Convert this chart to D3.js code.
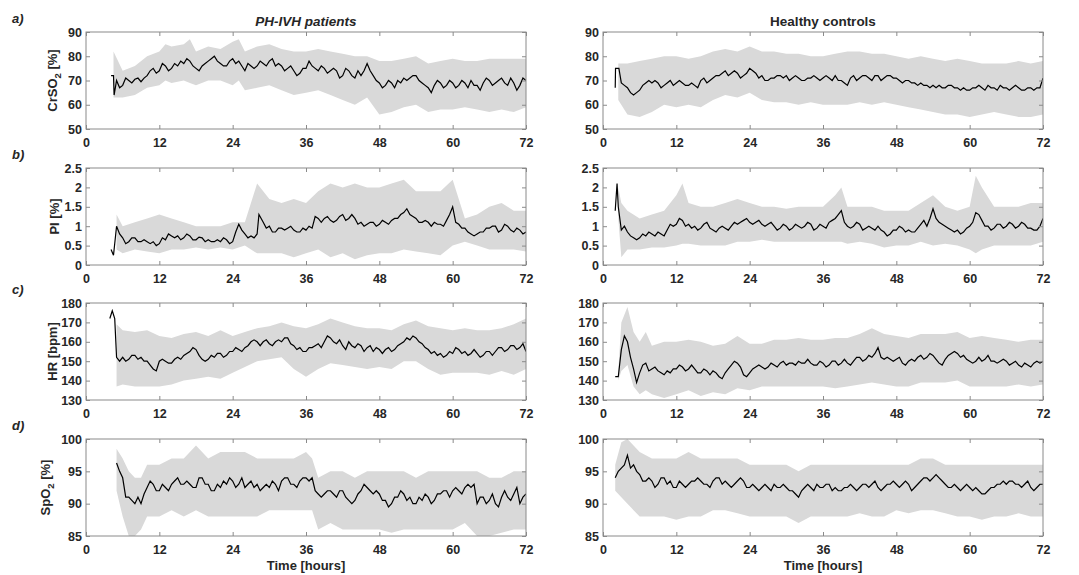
<!DOCTYPE html>
<html>
<head>
<meta charset="utf-8">
<script src="https://cdn.jsdelivr.net/npm/d3@7"></script>
<style>
  body { margin: 0; background: #fff; }
  svg { font-family: "Liberation Sans", Arial, sans-serif; }
  .tick text { font-size: 12.5px; font-weight: bold; fill: #262626; }
  .lbl { font-size: 13px; font-weight: bold; fill: #262626; }
  .ttl { font-size: 13.5px; font-weight: bold; fill: #262626; }
</style>
</head>
<body>
<div id="chart"></div>
<script>
// time axis ticks (hours)
var hourTicks = [0, 12, 24, 36, 48, 60, 72];
var groupTitles = ["PH-IVH patients", "Healthy controls"];

// ---- a) CrSO2, [hour, mean] and [hour, low, high]
var crso2PatMean = [[4.1,72],[4.5,72],[4.6,64],[5,70],[5.5,67],[6,68],[6.5,71],[7,70],[7.5,69],[8,70.5],[8.5,71],[9,69.5],[9.5,71],[10,72],[10.5,74],[11,75],[11.5,73],[12,74],[12.5,77],[13,76],[13.5,74],[14,75],[14.5,77],[15,76],[15.5,78],[16,77],[16.5,79],[17,78],[17.5,76],[18,75],[18.5,74],[19,76],[19.5,77],[20,78],[20.5,79],[21,80],[21.5,78],[22,77],[22.5,76],[23,76],[23.5,78],[24,79],[24.5,77],[25,78],[25.5,76],[26,74],[26.5,77],[27,76],[27.5,75],[28,76],[28.5,78],[29,77],[29.5,76],[30,78],[30.5,79],[31,76],[31.5,77],[32,76],[32.5,74],[33,75],[33.5,76],[34,74],[34.5,72],[35,73],[35.5,75],[36,75],[36.5,78],[37,76],[37.5,75],[38,74],[38.5,76],[39,75],[39.5,73],[40,74],[40.5,75],[41,74],[41.5,71],[42,72],[42.5,75],[43,74],[43.5,72],[44,71],[44.5,74],[45,72],[45.5,74],[46,77],[46.5,74],[47,72],[47.5,70],[48,69],[48.5,67],[49,68],[49.5,70],[50,69],[50.5,67],[51,70],[51.5,69],[52,71],[52.5,70],[53,71],[53.5,72],[54,72],[54.5,70],[55,69],[55.5,68],[56,67],[56.5,65],[57,68],[57.5,70],[58,69],[58.5,67],[59,68],[59.5,70],[60,69],[60.5,67],[61,68],[61.5,70],[62,69],[62.5,67],[63,70],[63.5,68],[64,68],[64.5,66],[65,69],[65.5,71],[66,70],[66.5,68],[67,69],[67.5,70],[68,71],[68.5,69],[69,68],[69.5,71],[70,69],[70.5,66],[71,68],[71.5,71],[72,70]];
var crso2PatBand = [[4.5,63,82],[6,63,74],[8,64,76],[10,67,80],[12,68,82],[13,70,85],[14,69,84],[16,70,85],[17,69,87],[18,68,82],[20,70,84],[22,70,83],[24,68,86],[25,70,87],[26,66,82],[28,67,84],[30,68,85],[32,66,83],[34,64,82],[36,65,82],[38,66,83],[40,64,82],[42,62,81],[44,60,80],[46,63,80],[48,56,78],[50,57,78],[52,59,79],[54,60,80],[56,57,77],[58,58,78],[60,58,79],[62,59,78],[64,58,78],[66,57,79],[68,58,79],[70,57,79],[72,59,79]];
var crso2CtlMean = [[2,67],[2.05,75],[2.6,75],[3,69],[3.5,68],[4,67],[4.5,65],[5,64],[5.5,65],[6,66],[6.5,68],[7,69],[7.5,70],[8,69],[8.5,70],[9,69],[9.5,67],[10,68],[10.5,69],[11,70],[11.5,68],[12,69],[12.5,70],[13,69],[13.5,68],[14,68],[14.5,69],[15,68],[15.5,67],[16,70],[16.5,71],[17,69],[17.5,70],[18,71],[18.5,72],[19,72],[19.5,73],[20,74],[20.5,72],[21,73],[21.5,74],[22,73],[22.5,71],[23,72],[23.5,73],[24,75],[24.5,74],[25,73],[25.5,71],[26,72],[26.5,70],[27,70],[27.5,71],[28,71],[28.5,72],[29,72],[29.5,71],[30,72],[30.5,70],[31,71],[31.5,72],[32,71],[32.5,70],[33,70],[33.5,71],[34,71],[34.5,72],[35,71],[35.5,70],[36,71],[36.5,72],[37,71],[37.5,70],[38,72],[38.5,70],[39,70],[39.5,69],[40,68],[40.5,71],[41,72],[41.5,70],[42,71],[42.5,72],[43,72],[43.5,71],[44,70],[44.5,72],[45,72],[45.5,70],[46,71],[46.5,72],[47,72],[47.5,71],[48,71],[48.5,70],[49,69],[49.5,70],[50,70],[50.5,69],[51,69],[51.5,68],[52,69],[52.5,68],[53,68],[53.5,67],[54,68],[54.5,67],[55,68],[55.5,67],[56,67],[56.5,68],[57,68],[57.5,67],[58,67],[58.5,66],[59,67],[59.5,66],[60,66],[60.5,67],[61,67],[61.5,68],[62,67],[62.5,66],[63,68],[63.5,67],[64,67],[64.5,66],[65,68],[65.5,67],[66,67],[66.5,66],[67,67],[67.5,68],[68,67],[68.5,66],[69,66],[69.5,67],[70,67],[70.5,66],[71,67],[71.5,67],[72,71]];
var crso2CtlBand = [[2.5,62,77],[4,56,77],[6,55,78],[8,57,79],[10,60,80],[12,59,80],[14,60,79],[16,59,80],[18,62,82],[20,64,83],[22,63,82],[24,65,84],[26,62,82],[28,61,82],[30,61,81],[32,60,81],[34,61,80],[36,60,80],[38,60,81],[40,60,82],[42,61,82],[44,60,81],[46,61,81],[48,60,80],[50,59,79],[52,58,80],[54,57,79],[56,56,78],[58,56,79],[60,55,78],[62,56,77],[64,57,77],[66,56,77],[68,55,78],[70,55,77],[72,56,78]];

// ---- b) PI
var piPatMean = [[4.1,0.4],[4.5,0.25],[5,1.0],[5.5,0.8],[6,0.7],[6.5,0.55],[7,0.6],[7.5,0.7],[8,0.7],[8.5,0.6],[9,0.6],[9.5,0.65],[10,0.6],[10.5,0.55],[11,0.6],[11.5,0.5],[12,0.55],[12.5,0.7],[13,0.65],[13.5,0.8],[14,0.75],[14.5,0.7],[15,0.75],[15.5,0.65],[16,0.7],[16.5,0.8],[17,0.75],[17.5,0.65],[18,0.65],[18.5,0.72],[19,0.7],[19.5,0.6],[20,0.65],[20.5,0.6],[21,0.6],[21.5,0.65],[22,0.6],[22.5,0.7],[23,0.65],[23.5,0.55],[24,0.6],[24.5,0.85],[25,1.05],[25.5,0.9],[26,0.8],[26.5,0.7],[27,0.75],[27.5,0.7],[28,0.8],[28.3,1.3],[29,1.1],[29.5,0.95],[30,1.0],[30.5,0.85],[31,0.85],[31.5,0.95],[32,0.95],[32.5,0.9],[33,0.95],[33.5,1.0],[34,0.9],[34.5,0.85],[35,0.85],[35.5,0.95],[36,0.9],[36.5,1.0],[37,0.95],[37.5,1.25],[38,1.2],[38.5,1.1],[39,1.2],[39.5,1.25],[40,1.15],[40.5,1.1],[41,1.15],[41.5,1.25],[42,1.3],[42.5,1.15],[43,1.2],[43.5,1.3],[44,1.2],[44.5,1.05],[45,1.1],[45.5,1.0],[46,1.05],[46.5,1.1],[47,1.1],[47.5,1.0],[48,1.05],[48.5,1.15],[49,1.1],[49.5,1.05],[50,1.15],[50.5,1.2],[51,1.2],[51.5,1.3],[52,1.35],[52.5,1.45],[53,1.3],[53.5,1.25],[54,1.2],[54.5,1.1],[55,1.1],[55.5,1.15],[56,1.1],[56.5,1.0],[57,1.1],[57.5,1.05],[58,1.05],[58.5,1.0],[59,1.15],[59.5,1.3],[60,1.5],[60.5,1.1],[61,1.05],[61.5,0.95],[62,0.95],[62.5,0.85],[63,0.8],[63.5,0.75],[64,0.8],[64.5,0.85],[65,0.85],[65.5,0.95],[66,0.95],[66.5,1.0],[67,1.0],[67.5,0.85],[68,0.9],[68.5,1.05],[69,1.0],[69.5,0.9],[70,0.85],[70.5,0.95],[71,0.9],[71.5,0.8],[72,0.85]];
var piPatBand = [[5,0.4,1.3],[6,0.3,1.0],[8,0.4,1.1],[10,0.35,1.2],[12,0.3,1.3],[14,0.4,1.2],[16,0.4,1.1],[18,0.45,1.0],[20,0.4,1.0],[22,0.45,1.0],[24,0.4,1.1],[26,0.5,1.1],[28,0.3,2.1],[30,0.3,1.7],[32,0.3,1.6],[34,0.2,1.7],[36,0.3,1.6],[38,0.4,1.9],[40,0.2,2.1],[42,0.3,2.0],[44,0.15,2.1],[46,0.25,2.0],[48,0.3,2.0],[50,0.3,2.1],[52,0.4,2.2],[54,0.35,1.9],[56,0.3,1.9],[58,0.25,1.9],[60,0.5,2.2],[62,0.6,1.2],[64,0.5,1.3],[66,0.4,1.5],[68,0.4,1.6],[70,0.4,1.4],[72,0.35,1.4]];
var piCtlMean = [[2,1.4],[2.3,2.1],[2.5,1.5],[3,0.9],[3.5,1.0],[4,0.85],[4.5,0.75],[5,0.7],[5.5,0.65],[6,0.7],[6.5,0.8],[7,0.75],[7.5,0.85],[8,0.8],[8.5,0.75],[9,0.85],[9.5,0.8],[10,0.75],[10.5,0.9],[11,1.05],[11.5,1.0],[12,1.05],[12.5,1.2],[13,1.15],[13.5,1.0],[14,1.05],[14.5,0.95],[15,1.0],[15.5,0.9],[16,0.95],[16.5,1.05],[17,1.1],[17.5,0.95],[18,0.9],[18.5,0.85],[19,0.95],[19.5,1.0],[20,0.95],[20.5,0.9],[21,1.0],[21.5,1.1],[22,1.05],[22.5,1.1],[23,1.15],[23.5,1.2],[24,1.1],[24.5,1.05],[25,1.1],[25.5,1.15],[26,1.05],[26.5,1.0],[27,1.05],[27.5,1.1],[28,1.0],[28.5,0.9],[29,0.95],[29.5,1.05],[30,1.0],[30.5,0.9],[31,0.95],[31.5,1.05],[32,1.0],[32.5,0.95],[33,1.0],[33.5,1.1],[34,1.05],[34.5,0.9],[35,0.95],[35.5,1.05],[36,1.0],[36.5,0.95],[37,1.1],[37.5,1.15],[38,1.2],[38.5,1.3],[39,1.4],[39.5,1.1],[40,1.0],[40.5,0.95],[41,1.0],[41.5,1.1],[42,1.05],[42.5,0.9],[43,0.95],[43.5,1.0],[44,0.95],[44.5,0.9],[45,1.0],[45.5,0.9],[46,0.85],[46.5,0.75],[47,0.8],[47.5,0.9],[48,0.9],[48.5,1.0],[49,0.95],[49.5,0.85],[50,0.9],[50.5,0.85],[51,0.85],[51.5,0.95],[52,1.05],[52.5,1.15],[53,1.0],[53.5,1.2],[54,1.45],[54.5,1.2],[55,1.1],[55.5,1.05],[56,1.0],[56.5,0.95],[57,0.9],[57.5,0.85],[58,0.9],[58.5,0.8],[59,0.85],[59.5,0.95],[60,1.0],[60.5,1.1],[61,1.35],[61.5,1.3],[62,1.15],[62.5,1.0],[63,1.0],[63.5,0.9],[64,0.95],[64.5,1.05],[65,1.05],[65.5,0.95],[66,1.0],[66.5,1.1],[67,1.05],[67.5,0.95],[68,1.0],[68.5,1.1],[69,1.05],[69.5,0.95],[70,0.95],[70.5,0.9],[71,0.9],[71.5,1.0],[72,1.2]];
var piCtlBand = [[2.5,1.2,2.0],[3,0.2,1.6],[4,0.4,1.4],[6,0.4,1.2],[8,0.45,1.3],[10,0.45,1.4],[12,0.5,1.8],[13,0.55,2.1],[14,0.55,1.6],[16,0.5,1.5],[18,0.5,1.5],[20,0.5,1.6],[22,0.6,1.7],[24,0.6,1.6],[26,0.65,1.5],[28,0.6,1.5],[30,0.6,1.45],[32,0.6,1.5],[34,0.6,1.5],[36,0.6,1.5],[38,0.6,1.8],[39,0.6,2.0],[40,0.55,1.5],[42,0.6,1.5],[44,0.55,1.5],[46,0.45,1.4],[48,0.5,1.4],[50,0.5,1.4],[52,0.6,1.6],[54,0.5,1.8],[56,0.55,1.5],[58,0.5,1.4],[60,0.4,1.5],[61,0.3,2.3],[62,0.4,2.0],[64,0.5,1.5],[66,0.5,1.5],[68,0.5,1.5],[70,0.5,1.6],[72,0.6,1.6]];

// ---- c) HR
var hrPatMean = [[3.9,172],[4.3,176],[4.7,172],[5,152],[5.5,150],[6,152],[6.5,150],[7,151],[7.5,153],[8,153],[8.5,151],[9,152],[9.5,150],[10,150],[10.5,148],[11,146],[11.5,145],[12,150],[12.5,151],[13,150],[13.5,149],[14,149],[14.5,151],[15,152],[15.5,151],[16,153],[16.5,154],[17,155],[17.5,157],[18,156],[18.5,153],[19,151],[19.5,150],[20,151],[20.5,153],[21,152],[21.5,154],[22,154],[22.5,152],[23,153],[23.5,155],[24,155],[24.5,157],[25,156],[25.5,155],[26,157],[26.5,158],[27,160],[27.5,161],[28,160],[28.5,158],[29,160],[29.5,161],[30,159],[30.5,158],[31,160],[31.5,161],[32,160],[32.5,162],[33,162],[33.5,159],[34,158],[34.5,156],[35,157],[35.5,155],[36,155],[36.5,157],[37,157],[37.5,158],[38,159],[38.5,157],[39,160],[39.5,163],[40,162],[40.5,160],[41,159],[41.5,161],[42,158],[42.5,156],[43,160],[43.5,158],[44,157],[44.5,159],[45,158],[45.5,155],[46,157],[46.5,158],[47,155],[47.5,157],[48,156],[48.5,154],[49,156],[49.5,157],[50,155],[50.5,156],[51,158],[51.5,159],[52,160],[52.5,162],[53,161],[53.5,163],[54,162],[54.5,160],[55,159],[55.5,157],[56,156],[56.5,154],[57,155],[57.5,153],[58,154],[58.5,152],[59,153],[59.5,155],[60,154],[60.5,157],[61,156],[61.5,154],[62,155],[62.5,153],[63,154],[63.5,156],[64,154],[64.5,152],[65,153],[65.5,155],[66,155],[66.5,153],[67,155],[67.5,157],[68,157],[68.5,155],[69,156],[69.5,158],[70,158],[70.5,156],[71,157],[71.5,159],[72,155]];
var hrPatBand = [[5,137,169],[6,138,166],[8,137,165],[10,137,166],[12,137,163],[14,138,162],[16,140,164],[18,141,165],[20,142,163],[22,141,166],[24,144,163],[26,147,165],[28,150,167],[30,151,168],[32,152,170],[34,146,168],[36,142,167],[38,146,169],[40,149,172],[42,148,170],[44,147,168],[46,146,167],[48,147,167],[50,146,166],[52,150,169],[54,150,171],[56,146,168],[58,143,167],[60,144,166],[62,144,167],[64,144,166],[66,143,166],[68,145,167],[70,143,169],[72,146,172]];
var hrCtlMean = [[2,142],[2.5,142],[3,156],[3.5,163],[4,160],[4.5,152],[5,146],[5.5,139],[6,144],[6.5,148],[7,149],[7.5,145],[8,146],[8.5,147],[9,145],[9.5,144],[10,143],[10.5,145],[11,144],[11.5,146],[12,146],[12.5,148],[13,147],[13.5,145],[14,146],[14.5,148],[15,146],[15.5,144],[16,144],[16.5,146],[17,145],[17.5,143],[18,145],[18.5,144],[19,142],[19.5,141],[20,144],[20.5,146],[21,148],[21.5,150],[22,149],[22.5,147],[23,143],[23.5,142],[24,144],[24.5,146],[25,147],[25.5,148],[26,147],[26.5,146],[27,147],[27.5,149],[28,148],[28.5,147],[29,149],[29.5,150],[30,148],[30.5,149],[31,149],[31.5,148],[32,150],[32.5,149],[33,149],[33.5,151],[34,149],[34.5,148],[35,148],[35.5,150],[36,149],[36.5,147],[37,148],[37.5,150],[38,150],[38.5,148],[39,149],[39.5,151],[40,149],[40.5,148],[41,150],[41.5,152],[42,152],[42.5,150],[43,151],[43.5,153],[44,152],[44.5,154],[45,157],[45.5,152],[46,151],[46.5,152],[47,151],[47.5,150],[48,151],[48.5,152],[49,149],[49.5,148],[50,150],[50.5,151],[51,150],[51.5,152],[52,153],[52.5,151],[53,152],[53.5,154],[54,153],[54.5,151],[55,149],[55.5,148],[56,151],[56.5,153],[57,154],[57.5,155],[58,154],[58.5,152],[59,153],[59.5,151],[60,150],[60.5,149],[61,150],[61.5,152],[62,150],[62.5,151],[63,153],[63.5,150],[64,150],[64.5,149],[65,150],[65.5,151],[66,150],[66.5,148],[67,149],[67.5,150],[68,148],[68.5,147],[69,149],[69.5,148],[70,147],[70.5,149],[71,150],[71.5,149],[72,150]];
var hrCtlBand = [[2.5,140,145],[3,145,170],[4,148,178],[5,137,165],[6,133,160],[7,135,165],[8,133,158],[10,131,160],[12,133,160],[14,135,161],[16,132,160],[18,134,158],[20,133,159],[22,136,163],[24,135,159],[26,137,159],[28,137,161],[30,137,161],[32,137,162],[34,137,161],[36,137,161],[38,136,162],[40,137,162],[42,138,164],[44,139,167],[46,138,164],[48,137,163],[50,137,162],[52,139,164],[54,139,164],[56,139,164],[58,140,165],[60,137,162],[62,137,163],[64,137,162],[66,137,161],[68,138,160],[70,137,161],[72,138,161]];

// ---- d) SpO2
var spo2PatMean = [[5,96.3],[5.5,95],[6,94],[6.5,91],[7,91],[7.5,90.5],[8,90],[8.5,91],[9,90],[9.5,91.5],[10,92.5],[10.5,93.5],[11,93],[11.5,92],[12,92],[12.5,93],[13,92.5],[13.5,92],[14,93],[14.5,93.5],[15,94],[15.5,93],[16,93],[16.5,93.5],[17,93],[17.5,92.5],[18,92.5],[18.5,94],[19,94],[19.5,93],[20,93],[20.5,92],[21,92],[21.5,93],[22,92.5],[22.5,93.5],[23,93],[23.5,94],[24,93.5],[24.5,92.5],[25,93],[25.5,94],[26,92.5],[26.5,93],[27,93.5],[27.5,92.5],[28,93],[28.5,92],[29,92.5],[29.5,93],[30,92.5],[30.5,93.5],[31,93],[31.5,92],[32,93.5],[32.5,94],[33,94],[33.5,93],[34,93],[34.5,92.5],[35,93.5],[35.5,94],[36,94],[36.5,93.5],[37,94],[37.5,92],[38,91.5],[38.5,91],[39,91.5],[39.5,92],[40,92],[40.5,91.5],[41,91],[41.5,92],[42,92],[42.5,91],[43,90.5],[43.5,90],[44,90.5],[44.5,91.5],[45,92],[45.5,93],[46,92.5],[46.5,92],[47,91.5],[47.5,92],[48,91.5],[48.5,90.5],[49,90.5],[49.5,89.5],[50,90],[50.5,91],[51,91],[51.5,92],[52,91.5],[52.5,90.5],[53,91],[53.5,90],[54,90],[54.5,91],[55,90.5],[55.5,91.5],[56,91],[56.5,90],[57,90.5],[57.5,91.5],[58,91.5],[58.5,92],[59,92],[59.5,91],[60,92],[60.5,92.5],[61,92],[61.5,91.5],[62,92.5],[62.5,93],[63,92.5],[63.5,93],[64,90],[64.5,91],[65,91],[65.5,90],[66,90.5],[66.5,91.5],[67,90],[67.5,89.5],[68,91],[68.5,92],[69,91],[69.5,90.5],[70,91.5],[70.5,92.5],[71,90],[71.5,91],[72,91.5]];
var spo2PatBand = [[5,92,98.5],[6,88,97],[7,85,95],[8,85,94],[9,86,94],[10,88,96],[12,88,96],[14,89,97],[16,88,97],[18,89,99],[20,88,97],[22,88,98],[24,88,98],[26,88,98],[28,88,97],[30,89,97],[32,89,97],[34,89,97],[36,89,98],[37,89,97],[38,86,94],[40,87,95],[42,86,95],[44,86,94],[46,86,95],[48,86,95],[50,85.5,95],[52,86,95],[54,86,94],[56,86,95],[58,86,95],[60,86,95],[62,87,95],[64,85,95],[66,85,94],[68,85.5,94],[70,86,95],[72,86,95]];
var spo2CtlMean = [[2,94],[2.5,95],[3,95.5],[3.5,96],[4,97.5],[4.5,95.5],[5,96],[5.5,95],[6,94.5],[6.5,93.5],[7,93.5],[7.5,94],[8,93.5],[8.5,92.5],[9,93],[9.5,94],[10,94],[10.5,93],[11,93.5],[11.5,92.5],[12,92.5],[12.5,93.5],[13,93],[13.5,92.5],[14,93],[14.5,93.5],[15,93.5],[15.5,94],[16,93.5],[16.5,93],[17,93],[17.5,92.5],[18,93.5],[18.5,94],[19,94],[19.5,93],[20,93.5],[20.5,93],[21,92.5],[21.5,93],[22,93.5],[22.5,94],[23,93.5],[23.5,92.5],[24,92.5],[24.5,93],[25,92.5],[25.5,92],[26,92.5],[26.5,93],[27,92.5],[27.5,92],[28,93],[28.5,92.5],[29,92.5],[29.5,93],[30,92.5],[30.5,92],[31,92],[31.5,91.5],[32,91],[32.5,92],[33,92.5],[33.5,93],[34,92.5],[34.5,92],[35,93],[35.5,92.5],[36,92.5],[36.5,93],[37,93],[37.5,92],[38,92.5],[38.5,92],[39,92],[39.5,92.5],[40,92.5],[40.5,93],[41,92.5],[41.5,92],[42,92.5],[42.5,93],[43,93],[43.5,92.5],[44,93],[44.5,93.5],[45,92.5],[45.5,92],[46,92.5],[46.5,93],[47,93],[47.5,93.5],[48,93],[48.5,92.5],[49,93],[49.5,93.5],[50,93],[50.5,92],[51,92.5],[51.5,93],[52,93.5],[52.5,94],[53,94],[53.5,93.5],[54,94],[54.5,94.5],[55,94],[55.5,93.5],[56,93],[56.5,92.5],[57,92.5],[57.5,93],[58,92.5],[58.5,92],[59,92.5],[59.5,93],[60,92.5],[60.5,92],[61,92.5],[61.5,92],[62,91.5],[62.5,91.5],[63,92],[63.5,92.5],[64,92.5],[64.5,93],[65,93],[65.5,93.5],[66,93],[66.5,93.5],[67,93.5],[67.5,93],[68,93],[68.5,92.5],[69,93],[69.5,93.5],[70,92.5],[70.5,92],[71,92.5],[71.5,93],[72,93]];
var spo2CtlBand = [[2,92,96],[3,91,99.5],[4,90,100],[5,89,99],[6,88,98],[8,88,97],[10,88,97],[12,87.5,97],[14,88,98],[16,88,97],[18,89,97],[20,89,97],[22,88.5,97],[24,88,96],[26,88,96],[28,88,96],[30,88,96],[32,87,95],[34,88,96],[36,88,96],[38,88,96],[40,88,96],[42,88.5,96],[44,88,96],[46,88,96],[48,89,96],[50,88.5,96],[52,89,97],[54,89,97],[56,88.5,96],[58,88,96],[60,88,96],[62,87.5,96],[64,88,96],[66,88,96],[68,88.5,96],[70,88,96],[72,88,96]];

var rows = [
  {letter: "a)", label: "CrSO", sub: "2", unit: " [%]", domain: [50, 90], ticks: [50, 60, 70, 80, 90], fmt: d3.format("d"),
   series: [[crso2PatMean, crso2PatBand], [crso2CtlMean, crso2CtlBand]], labX: 57},
  {letter: "b)", label: "PI", sub: "", unit: " [%]", domain: [0, 2.5], ticks: [0, 0.5, 1, 1.5, 2, 2.5], fmt: d3.format("~g"),
   series: [[piPatMean, piPatBand], [piCtlMean, piCtlBand]], labX: 59},
  {letter: "c)", label: "HR [bpm]", sub: "", unit: "", domain: [130, 180], ticks: [130, 140, 150, 160, 170, 180], fmt: d3.format("d"),
   series: [[hrPatMean, hrPatBand], [hrCtlMean, hrCtlBand]], labX: 57},
  {letter: "d)", label: "SpO", sub: "2", unit: " [%]", domain: [85, 100], ticks: [85, 90, 95, 100], fmt: d3.format("d"),
   series: [[spo2PatMean, spo2PatBand], [spo2CtlMean, spo2CtlBand]], labX: 50}
];

var width = 1079, height = 575;
var colLeft = [86, 603], plotW = 440;
var rowTop = [32, 168, 303, 439], plotH = 97;

var svg = d3.select("#chart").append("svg")
    .attr("width", width)
    .attr("height", height);

var x = d3.scaleLinear().domain([0, 72]).range([0, plotW]);

rows.forEach(function(r, ri) {
  var y = d3.scaleLinear().domain(r.domain).range([plotH, 0]);

  // panel letter
  svg.append("text").attr("class", "lbl")
    .attr("x", 12).attr("y", rowTop[ri] - 9)
    .style("font-style", "italic")
    .text(r.letter);

  r.series.forEach(function(s, ci) {
    var g = svg.append("g")
      .attr("transform", "translate(" + colLeft[ci] + "," + rowTop[ri] + ")");

    var clipId = "clip" + ri + ci;
    g.append("clipPath").attr("id", clipId)
      .append("rect").attr("width", plotW).attr("height", plotH);

    var area = d3.area()
      .x(function(d) { return x(d[0]); })
      .y0(function(d) { return y(d[1]); })
      .y1(function(d) { return y(d[2]); });
    var line = d3.line()
      .x(function(d) { return x(d[0]); })
      .y(function(d) { return y(d[1]); });

    g.append("path").datum(s[1])
      .attr("clip-path", "url(#" + clipId + ")")
      .attr("d", area)
      .attr("fill", "#d9d9d9");

    g.append("path").datum(s[0])
      .attr("clip-path", "url(#" + clipId + ")")
      .attr("d", line)
      .attr("fill", "none")
      .attr("stroke", "#000")
      .attr("stroke-width", 1.2);

    // axes, matlab style: ticks inside, box all round
    g.append("g").attr("class", "x axis")
      .attr("transform", "translate(0," + plotH + ")")
      .call(d3.axisBottom(x).tickValues(hourTicks).tickFormat(d3.format("d")).tickSizeInner(-4).tickSizeOuter(0).tickPadding(9));
    g.append("g")
      .call(d3.axisTop(x).tickValues(hourTicks).tickFormat("").tickSizeInner(-4).tickSizeOuter(0));
    g.append("g").attr("class", "y axis")
      .call(d3.axisLeft(y).tickValues(r.ticks).tickFormat(r.fmt).tickSizeInner(-4).tickSizeOuter(0).tickPadding(4));
    g.append("g").attr("transform", "translate(" + plotW + ",0)")
      .call(d3.axisRight(y).tickValues(r.ticks).tickFormat("").tickSizeInner(-4).tickSizeOuter(0));

    g.selectAll(".domain").remove();
    g.selectAll(".tick line").attr("stroke", "#8a8a8a");
    g.append("rect").attr("width", plotW).attr("height", plotH)
      .attr("fill", "none").attr("stroke", "#8a8a8a").attr("stroke-width", 1);

    // column title
    if (ri === 0) {
      svg.append("text").attr("class", "ttl")
        .attr("x", colLeft[ci] + plotW / 2)
        .attr("y", 26)
        .attr("text-anchor", "middle")
        .style("font-style", ci === 0 ? "italic" : "normal")
        .text(groupTitles[ci]);
    }
    // time label
    if (ri === rows.length - 1) {
      svg.append("text").attr("class", "lbl")
        .attr("x", colLeft[ci] + plotW / 2)
        .attr("y", 570)
        .attr("text-anchor", "middle")
        .text("Time [hours]");
    }
  });

  // y label on left column only
  var cy = rowTop[ri] + plotH / 2;
  var t = svg.append("text").attr("class", "lbl")
    .attr("transform", "translate(" + r.labX + "," + cy + ") rotate(-90)")
    .attr("text-anchor", "middle");
  t.append("tspan").text(r.label);
  if (r.sub) {
    t.append("tspan").attr("dy", 4).style("font-size", "9.5px").text(r.sub);
    t.append("tspan").attr("dy", -4).text(r.unit);
  } else {
    t.append("tspan").text(r.unit);
  }
});
</script>
</body>
</html>
